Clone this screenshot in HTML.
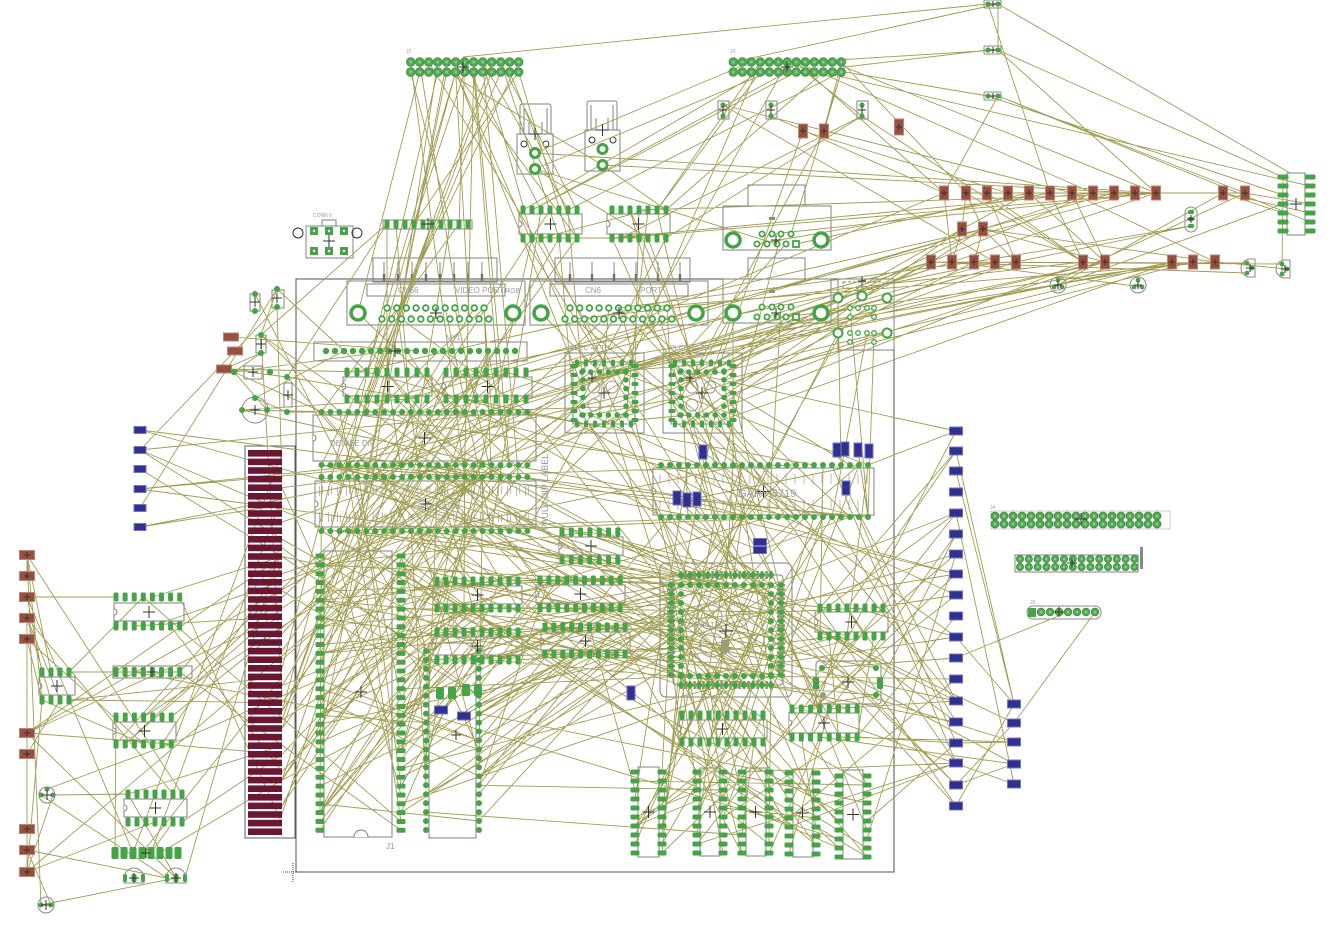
<!DOCTYPE html>
<html><head><meta charset="utf-8"><style>html,body{margin:0;padding:0;background:#fff;width:1335px;height:934px;overflow:hidden}svg{display:block}</style></head>
<body><svg id="s" xmlns="http://www.w3.org/2000/svg" width="1335" height="934" viewBox="0 0 1335 934" font-family="Liberation Sans, sans-serif">
<g id="tx" fill="#9a9a9a" font-family="Liberation Sans, sans-serif">
<text x="398" y="293" font-size="8">CN66</text>
<text x="455" y="293" font-size="8">VIDEO PORT</text>
<text x="505" y="293" font-size="7">RGB</text>
<text x="585" y="293" font-size="8">CN6</text>
<text x="640" y="293" font-size="8">PORT</text>
<text x="446" y="340" font-size="7">MY1</text>
<text x="330" y="446" font-size="8">DENISE DIP</text>
<text x="418" y="509" font-size="7">PAULA 8364</text>
<text x="738" y="497" font-size="11">GARY 5719</text>
<text x="386" y="849" font-size="8">J1</text>
<text x="570" y="350" font-size="7">PLCC 44 TH</text>
<text x="670" y="350" font-size="7">PLCC 44 TH</text>
<text x="680" y="627" font-size="7">PLCC 84 TH</text>
<text x="548" y="530" font-size="9" transform="rotate(-90 548 530)">PAULA DIP LABEL</text>
<text x="406" y="53" font-size="5">J2</text>
<text x="730" y="53" font-size="5">J3</text>
<text x="313" y="217" font-size="5">CONN 6</text>
<text x="990" y="509" font-size="5">J4</text>
<text x="1030" y="604" font-size="5">J5</text>
</g>
</svg>
<script>
let O='',PD='',XS='',WD='';const G={};
const GR='#45a445';
function add(g,x,y){(G[g]=G[g]||[]).push([x,y]);}
function R(x,y,w,h,c,sw,f,rx){O+=`<rect x="${x}" y="${y}" width="${w}" height="${h}" fill="${f||'none'}" stroke="${c||'#808080'}" stroke-width="${sw||1}"${rx?` rx="${rx}"`:''}/>`;}
function L(x1,y1,x2,y2,c,sw){O+=`<line x1="${x1}" y1="${y1}" x2="${x2}" y2="${y2}" stroke="${c||'#808080'}" stroke-width="${sw||1}"/>`;}
function C(x,y,r,c,sw,f){O+=`<circle cx="${x}" cy="${y}" r="${r}" fill="${f||'none'}" stroke="${c||'#808080'}" stroke-width="${sw||1}"/>`;}
function X(x,y,s){s=s||5;XS+=`<path d="M${x-s} ${y}h${2*s}M${x} ${y-s}v${2*s}" stroke="#333" stroke-width="1" fill="none"/>`;}
function pr(g,x,y,r){PD+=`<circle cx="${x}" cy="${y}" r="${r||3}" fill="${GR}"/>`;add(g,x,y);}
function po(g,x,y,w,h){w=w||5;h=h||9;PD+=`<rect x="${x-w/2}" y="${y-h/2}" width="${w}" height="${h}" rx="1.5" fill="${GR}"/>`;add(g,x,y);}
function ring(g,x,y,r,sw){PD+=`<circle cx="${x}" cy="${y}" r="${r}" fill="#fff" stroke="${GR}" stroke-width="${sw}"/>`;add(g,x,y);}
function hp(g,x,y,r){r=r||4.3;PD+=`<circle cx="${x}" cy="${y}" r="${r}" fill="#56a956" stroke="#3c8c3c" stroke-width="0.8"/><circle cx="${x}" cy="${y}" r="${r/3}" fill="#8ccc8c"/>`;add(g,x,y);}
function smd(g,x,y,w,h,f,s){PD+=`<rect x="${x-w/2}" y="${y-h/2}" width="${w}" height="${h}" fill="${f}" stroke="${s}" stroke-width="1"/>`;add(g,x,y);}
function brown(g,x,y,w,h){smd(g,x,y,w||9,h||14,'#96503f','#c08474');X(x,y,3);}
function blue(g,x,y,w,h){smd(g,x,y,w||13,h||8,'#30308e','#7474c4');}
function notch(ox,oy,oh){O+=`<path d="M${ox} ${oy+oh/2-3}a3 3 0 0 1 0 6" fill="#fff" stroke="#808080"/>`;}
function dipH(g,x0,step,n,yt,yb,ox,oy,ow,oh,round){R(ox,oy,ow,oh);notch(ox,oy,oh);
 for(let i=0;i<n;i++){const x=+(x0+step*i).toFixed(1);if(round){pr(g,x,yt,3);pr(g,x,yb,3);}else{po(g,x,yt);po(g,x,yb);}}
 X(ox+ow/2,oy+oh/2,6);}
function dipV(g,xl,xr,y0,n,ox,ow,oy,oh){R(ox,oy,ow,oh);for(let i=0;i<n;i++){po(g,xl,y0+9*i,9,5);po(g,xr,y0+9*i,9,5);}X((xl+xr)/2,oy+oh/2,6);}

// board
R(296,279,598,593,'#505050');
O+=`<path d="M283 872h20M293 863v20" stroke="#444" stroke-dasharray="1,1" fill="none"/>`;
// edge connector
R(245,446,50,392,'#606060');
for(let i=0;i<45;i++){const y=450+i*8.6;PD+=`<rect x="248" y="${y.toFixed(1)}" width="34" height="6.6" fill="#6b1733"/>`;add('edge',282,y+3.3);}
X(265,642,4);
// DB25 connectors
function dbBig(g,x1,x2,sx1,sx2,teeth){R(sx1,258,sx2-sx1,24);teeth.forEach(t=>{L(t,262,t,279,'#808080',1);L(t,274,t,281,'#707070',2.5);});
 R(x1,281,x2-x1,44);R(x1+20,284,x2-x1-40,12);
 ring(g,x1+11,313,7,3.5);ring(g,x2-12,313,7,3.5);
 for(let i=0;i<11;i++)ring(g,+(x1+40+9.7*i).toFixed(1),308,2.8,1.8);
 for(let i=0;i<12;i++)ring(g,+(x1+35+9.7*i).toFixed(1),319,2.8,1.8);
 X((x1+x2)/2,313,6);}
dbBig('cn66',347,525,373,497,[384,398,412,426,440,454,468,482]);
dbBig('cn6',530,708,555,690,[570,592,614,636,658,680]);
// DB9s
function db9(g,y0){R(748,y0,57,21);R(723,y0+21,108,44);ring(g,733,y0+55,7,3.5);ring(g,821,y0+55,7,3.5);
 [762,772,781,791].forEach(x=>ring(g,x,y0+49,2.6,1.8));
 [757,767,777,786].forEach(x=>ring(g,x,y0+59,2.6,1.8));
 PD+=`<rect x="793" y="${y0+56}" width="6" height="6" fill="#fff" stroke="${GR}" stroke-width="1.8"/>`;add(g,796,y0+59);
 O+=`<rect x="769" y="${y0+32}" width="6" height="3" fill="#888"/>`;X(776,y0+55,5);}
db9('db9a',185);db9('db9b',258);
// RJ
R(838,279,56,71);O+=`<rect x="843" y="282" width="40" height="6" fill="none" stroke="#888" stroke-dasharray="3,2"/>`;
[[838,298],[862,296],[887,298],[838,333],[887,333]].forEach(p=>ring('rj',p[0],p[1],4.5,2));
[[850,308],[858,308],[867,308],[874,308],[850,317],[874,317],[850,333],[858,333],[867,333],[874,333],[850,342],[874,342]].forEach(p=>ring('rj',p[0],p[1],2.3,1.3));
X(862,281,4);
// USB
function usb(g,ux,uy,uw,uh,lx,lw,lh){R(ux,uy,uw,uh,'#808080',1,'none',2);
 L(ux+4,uy+4,ux+4,uy+uh);L(ux+uw-4,uy+4,ux+uw-4,uy+uh);L(ux+9,uy+uh-12,ux+9,uy+uh);L(ux+uw-9,uy+uh-12,ux+uw-9,uy+uh);
 R(lx,uy+uh,lw,lh);const cx=lx+lw/2;
 C(lx+7,uy+uh+10,3,'#333');C(lx+lw-7,uy+uh+10,3,'#333');
 ring(g,cx,uy+uh+19,4.5,3);ring(g,cx,uy+uh+35,4.5,3);X(cx,uy+uh,6);}
usb('usb',520,104,31,30,517,36,40);
usb('usb',587,101,30,29,585,35,41);
// top headers
for(let i=0;i<13;i++){hp('hdr1',+(410.7+9*i).toFixed(1),62);hp('hdr1',+(410.7+9*i).toFixed(1),72);hp('hdr2',+(733.3+9*i).toFixed(1),62);hp('hdr2',+(733.3+9*i).toFixed(1),72);}
X(463,67,6);X(787,67,6);
// top right small
[4,50,96].forEach(y=>{R(984,y-4,17,8,'#888',1,'none',1);pr('tr',988,y,2.6);pr('tr',998,y,2.6);X(993,y,3);});
[[723,110],[771,110],[862,110]].forEach(p=>{R(p[0]-5,p[1]-9,11,18);pr('ts',p[0],p[1]-5,2.6);pr('ts',p[0],p[1]+6,2.6);X(p[0],p[1],4);});
brown('ts',803,131,9,14);brown('ts',824,131,9,14);brown('ts',899,127,9,16);
// right brown rows
[944,966,987,1008,1029,1050,1072,1093,1114,1135,1156].forEach(x=>brown('b1',x,193));
[1223,1245].forEach(x=>brown('b1r',x,193));
[962,983].forEach(x=>brown('b2',x,229));
[931,952,974,995,1016,1083,1105,1172,1193,1215].forEach(x=>brown('b3',x,262));
function rnd3(x,y){C(x,y,8,'#888');pr('rd',x,y-5,2.4);pr('rd',x-4,y+2,2.4);pr('rd',x+4,y+2,2.4);X(x,y,4);}
rnd3(1058,285);rnd3(1138,285);
function dsh(x,y){O+=`<path d="M${x+5} ${y-9}v18h-5a9 9 0 0 1 0-18z" fill="none" stroke="#888"/>`;pr('rd',x-3,y-5,2.4);pr('rd',x+2,y,2.4);pr('rd',x-3,y+5,2.4);X(x,y,4);}
dsh(1250,268);dsh(1285,269);
R(1185,207,12,25,'#888',1,'none',6);po('rd',1191,212,6,4);po('rd',1191,219,6,4);po('rd',1191,226,6,4);X(1191,219,4);
R(1287,173,18,62);for(let i=0;i<7;i++){po('ic',1283,177+9*i,11,5);po('ic',1310,177+9*i,11,5);}X(1296,204,6);
// 6-pin connector
R(306,226,47,32);R(322,220,14,6);C(298,233,5,'#333');C(357,233,5,'#333');
[[314,231],[329,231],[344,231],[314,251],[329,251],[344,251]].forEach(p=>{PD+=`<rect x="${p[0]-4}" y="${p[1]-4}" width="8" height="8" fill="${GR}"/><circle cx="${p[0]}" cy="${p[1]}" r="1.2" fill="#fff"/>`;});X(329,241,6);
// left smalls
R(250,294,10,17);pr('ls',255,294,3);pr('ls',255,311,3);X(255,302,5);
R(272,290,12,18);pr('ls',277,289,3);pr('ls',277,307,3);X(277,298,5);
R(256,335,10,18);pr('ls',261,335,3);pr('ls',261,353,3);X(261,344,5);
smd('ls',231,337,15,8,'#96503f','#c08474');smd('ls',235,351,15,8,'#96503f','#c08474');smd('ls',224,369,15,8,'#96503f','#c08474');
R(244,366,18,13);pr('ls',234,372,3.2);pr('ls',270,372,3.2);X(253,372,5);
C(255,410,13,'#888');pr('ls',255,398,3);pr('ls',242,410,3);pr('ls',267,410,3);X(255,410,5);
R(284,383,8,24);pr('ls',287,377,3);pr('ls',287,412,3);X(288,395,5);
// SIP + DIPs top
R(383,220,89,9);for(let i=0;i<10;i++)po('sip',+(387+9*i).toFixed(1),224,5,9);X(428,224,6);
dipH('dipA',523,9,7,210,238,519,214,63,20);
dipH('dipB',612,9,7,210,238,607,214,63,20);
// inside board
R(314,342,213,19);for(let i=0;i<22;i++)pr('my1',326+9*i,351,3.2);X(395,351,6);
dipH('dip1',347,10,9,372,399,343,377,89,19);
dipH('dip2',446,10,9,372,399,443,377,89,19);
dipH('den',321.5,8.95,24,412,465,313,415,223,46,true);
dipH('pau',321.5,8.95,24,477,531,315,481,221,46,true);
// paula pin labels
for(let i=0;i<24;i++){const x=321.5+8.95*i;O+=`<path d="M${x-2} 486v10M${x+1} 486v8M${x-2} 512v10M${x+1} 514v8" stroke="#aaa" stroke-width="0.8"/>`;}
// PLCC sockets
function plcc(g,cx,cy){R(cx-39,cy-40,79,80);R(cx-31,cy-31,62,62);
 for(let i=0;i<7;i++){const o=-27+9*i;po(g,cx+o,cy-30,4,7);po(g,cx+o,cy+31,4,7);po(g,cx-30,cy+o,7,4);po(g,cx+31,cy+o,7,4);}
 for(let i=0;i<6;i++){const o=+(-22+8.8*i).toFixed(1);pr(g,cx+o,cy-21,2.8);pr(g,cx+o,cy+22,2.8);pr(g,cx-21,cy+o,2.8);pr(g,cx+22,cy+o,2.8);}
 C(cx-10,cy-6,6,'#999');C(cx+8,cy-6,6,'#999');C(cx-10,cy+12,6,'#999');X(cx,cy,6);X(cx-12,cy-15,4);}
plcc('pl1',604,393);plcc('pl2',702,393);
// GARY
dipH('gary',661,9,24,465,517,653,468,221,47,true);
for(let i=0;i<24;i++){const x=661+9*i;O+=`<path d="M${x-1} 474v10M${x-1} 500v10" stroke="#aaa" stroke-width="0.8"/>`;}
[[703,452],[837,450],[845,449],[858,450],[869,451],[846,488],[677,498],[687,500],[697,499]].forEach(p=>blue('gb',p[0],p[1],8,14));
blue('gb',760,542,13,7);blue('gb',760,550,13,7);blue('gb',631,693,8,14);
// mid DIPs
dipH('sd',562,9.3,7,532,560,559,537,64,18);
dipH('dm1',437,9,10,581,608,433,586,89,18);
dipH('dm2',437,9,10,632,660,433,637,89,18);
dipH('dm3',540,8.9,10,580,608,536,585,89,18);
dipH('dm4',545,8.9,10,627,654,541,632,89,18);
// J1
R(324,551,68,286);for(let i=0;i<32;i++){const y=+(556+8.85*i).toFixed(1);po('j1',320,y,9,5);po('j1',401,y,9,5);}X(361,692,6);
O+=`<path d="M354 837a7 7 0 0 1 14 0" fill="#fff" stroke="#808080"/>`;
// dip430
R(429,643,47,195);for(let i=0;i<21;i++){const y=+(651+8.95*i).toFixed(1);pr('d430',426,y,3);pr('d430',479,y,3);}X(456,735,5);
[[440,693],[452,693],[466,690],[478,690]].forEach(p=>po('d430s',p[0],p[1],8,12));
blue('d430s',441,710,13,8);blue('d430s',464,716,13,8);
// big PLCC
R(660,563,132,134,'#808080',1,'none',6);R(673,575,110,110,'#808080',1,'none',3);
for(let i=0;i<21;i++){const o=-45+4.5*i;PD+=`<rect x="${724.8+o}" y="571" width="2.5" height="8" fill="#7e9a5e"/><rect x="${724.8+o}" y="681" width="2.5" height="8" fill="#7e9a5e"/><rect x="667" y="${628.8+o}" width="8" height="2.5" fill="#7e9a5e"/><rect x="777" y="${628.8+o}" width="8" height="2.5" fill="#7e9a5e"/>`;}
for(let i=0;i<11;i++){const o=-45+9*i;pr('pb',726+o,575,3);pr('pb',726+o,685,3);pr('pb',671,630+o,3);pr('pb',781,630+o,3);
 pr('pb',726+o,585,3);pr('pb',726+o,676,3);pr('pb',681,630+o,3);pr('pb',771,630+o,3);}
C(710,617,12,'#999');C(738,615,12,'#999');C(712,645,12,'#999');C(738,645,12,'#999');
O+=`<path d="M721 640h8v7h4l-8 8-8-8h4z" fill="#999"/>`;X(726,631,7);
// right DIPs / osc
dipH('d818',820,9,8,608,636,815,612,73,20);
R(816,661,65,43,'#808080',1,'none',3);pr('osc',822,668,3);pr('osc',876,668,3);pr('osc',876,695,3);O+=`<circle cx="823" cy="695" r="3" fill="#999"/>`;po('osc',816,683,6,12);po('osc',880,683,6,12);X(848,682,6);
dipH('d790',792,9.3,8,709,737,789,713,70,20);
dipH('d680',682,9,10,715,742,678,720,89,18);
// bottom DIPs
dipV('bot',635,662,772,10,638,21,767,90);
dipV('bot',697,723,772,10,700,20,768,88);
dipV('bot',742,769,772,10,746,20,768,88);
dipV('bot',789,816,773,10,793,20,769,88);
dipV('bot',839,867,776,10,843,20,770,89);
// right blue
[431,451,471,492,513,534,554,574,595,616,637,658,679,701,722,743,763,785,806].forEach(y=>blue('br',956,y,13,8));
[704,723,742,764,784].forEach(y=>blue('br2',1014,y,13,8));
// right headers
R(991,511,179,18,'#aaa',0.6);for(let i=0;i<19;i++){hp('hr',995+9*i,516,4);hp('hr',995+9*i,524,4);}X(1081,519,6);
R(1015,555,123,17);for(let i=0;i<14;i++){const x=+(1020+8.8*i).toFixed(1);hp('hr2',x,559,3.6);hp('hr2',x,567,3.6);}X(1072,563,5);
O+=`<rect x="1140" y="547" width="3" height="22" fill="#888"/>`;
R(1027,606,74,13,'#888',1,'none',6);PD+=`<rect x="1028" y="608" width="8" height="9" fill="${GR}"/>`;add('sipr',1032,612);
for(let i=1;i<8;i++)hp('sipr',1032+9*i,612,3.8);X(1059,612,5);
// left blue
[430,450,469,489,508,527].forEach(y=>blue('bl',140,y,12,7));
// left brown
[555,576,597,618,639,733,754,829,850,872].forEach(y=>brown('brl',27,y,15,9));
// left dips
dipH('ld0',42,9,4,672,700,39,677,36,18);
dipH('ld',116,9.1,8,597,626,114,603,70,18);
R(113,666,79,12);for(let i=0;i<8;i++)po('ld',+(116+9.1*i).toFixed(1),672,5,10);X(152,672,5);
dipH('ld',116,9.2,7,717,744,113,722,63,18);
dipH('ld',128,9,7,794,822,124,799,63,18);
for(let i=0;i<8;i++)po('lo',115+9*i,853,7,12);X(146,853,5);
C(47,795,8,'#888');pr('lc',41,795,2.5);pr('lc',53,795,2.5);pr('lc',47,789,2.5);X(47,795,5);
C(46,905,8,'#888');pr('lc',41,905,2.5);pr('lc',51,905,2.5);X(46,905,5);
[[134,878],[176,878]].forEach(p=>{O+=`<path d="M${p[0]-10} ${p[1]+5}v-5a10 10 0 0 1 20 0v5z" fill="none" stroke="#888"/>`;po('lo',p[0]-9,p[1],4,8);po('lo',p[0],p[1],5,8);po('lo',p[0]+9,p[1],4,8);X(p[0],p[1],5);});

// airwires
let seed=12345;function rnd(){seed|=0;seed=seed+0x6D2B79F5|0;let t=Math.imul(seed^seed>>>15,1|seed);t=t+Math.imul(t^t>>>7,61|t)^t;return((t^t>>>14)>>>0)/4294967296;}
function pick(g){const a=G[g];return a[Math.floor(rnd()*a.length)];}
function W(a,b,n){if(!G[a]||!G[b])return;for(let i=0;i<n;i++){const p=pick(a),q=pick(b);WD+=`M${p[0]} ${p[1]}L${q[0]} ${q[1]}`;}}
const spec=`hdr1-sip 4,hdr1-dipA 8,hdr1-pau 8,hdr1-den 4,hdr1-dip1 3,hdr1-cn66 3,hdr1-pl1 3,hdr1-usb 1,
hdr2-dipA 4,hdr2-dipB 3,hdr2-b1 4,hdr2-ts 3,hdr2-pl1 2,hdr2-db9a 1,hdr2-usb 2,hdr2-ic 1,
tr-ic 2,tr-hdr2 2,tr-b1 2,ts-b1 3,ts-b3 2,ts-dipB 2,ts-pl2 2,usb-dipB 2,usb-b1 2,usb-db9a 1,
b1-b3 10,b1-b2 6,b2-b3 6,b1-b1r 3,b1r-ic 3,b1r-rd 3,rd-b3 8,rd-ic 2,
b3-pl1 8,b3-pl2 6,b3-den 4,b3-dip2 4,b3-db9b 3,b3-cn6 3,b1-dipB 3,b1-db9a 3,b1-cn6 2,b2-pl2 3,b2-dip1 3,
sip-den 3,sip-dip1 3,sip-ls 2,ls-ls 6,ls-den 5,ls-dip1 4,ls-my1 3,ls-pau 3,ls-edge 2,
dipA-pau 5,dipA-pl1 4,dipA-dipB 2,dipB-pl1 3,dipB-gary 3,dipB-pl2 2,
cn66-pau 5,cn66-den 4,cn6-pl1 4,cn6-pl2 3,cn6-gary 3,cn6-pau 3,
db9b-pl2 4,db9b-gary 2,db9a-pl2 2,rj-pl2 3,rj-gary 4,rj-pb 2,
my1-den 4,my1-pau 4,dip1-pau 5,dip2-pau 5,dip1-den 4,dip2-den 4,dip2-pl1 3,
den-pau 14,den-pb 8,den-gary 6,den-j1 6,den-dm1 4,den-pl1 4,
pau-j1 10,pau-pb 10,pau-dm1 5,pau-dm3 5,pau-gary 6,pau-d430 6,pau-sd 3,pau-bot 4,
pl1-pau 6,pl1-pb 6,pl1-gary 4,pl1-pl2 3,pl2-gary 6,pl2-pb 6,pl2-br 3,
gary-pb 12,gary-br 8,gary-bot 6,gary-gb 4,gary-d818 3,gary-dm3 3,
edge-pau 12,edge-j1 6,edge-den 8,edge-ld 10,edge-dm1 4,edge-bl 3,edge-d430 3,edge-ld0 2,edge-lo 3,
bl-den 5,bl-ls 2,bl-pau 3,brl-ld0 8,brl-ld 6,brl-brl 4,brl-lc 3,brl-lo 3,brl-edge 2,brl-pau 2,
ld-pau 5,ld-j1 4,ld-lo 3,lo-lc 2,lo-edge 2,ld0-ld 3,lc-ld 2,
j1-dm1 14,j1-dm2 10,j1-d430 14,j1-pb 10,j1-dm3 6,j1-dm4 6,j1-sd 4,
d430-pb 10,d430-dm4 8,d430-dm3 6,d430-d430s 3,
dm1-pb 8,dm2-pb 6,dm3-pb 8,dm4-pb 8,sd-pb 4,dm1-dm3 4,dm2-dm4 4,
pb-bot 20,pb-d680 10,pb-d790 6,pb-osc 4,pb-d818 6,pb-br 10,
bot-bot 10,bot-d680 8,bot-br 8,bot-d790 4,bot-dm4 4,bot-d430 4,
br-d818 6,br-d790 6,br-osc 4,br-br2 10,br-sipr 1,br2-sipr 1,br-gb 4,br2-d790 3,br2-pb 3,
d818-d790 3,osc-d790 2`;
spec.split(',').forEach(s=>{s=s.trim();if(!s)return;const [ab,n]=s.split(' ');const [a,b]=ab.split('-');W(a,b,+n);});
WD+='M463 57L988 4M998 4L1290 173M988 50L845 67M988 96L845 72M998 4L998 50M998 50L1283 177M998 96L1245 193M988 4L1050 193';
document.getElementById('s').insertAdjacentHTML('afterbegin',O+`<path d="${WD}" stroke="#a19e52" stroke-width="0.9" fill="none"/>`+PD+XS);
</script></body></html>
